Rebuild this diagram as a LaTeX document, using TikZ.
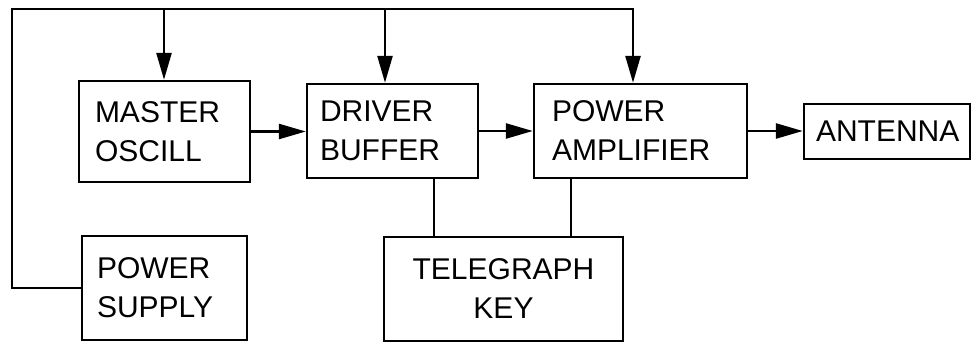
\documentclass[tikz,border=0pt]{standalone}
\usepackage{fontspec}
\setmainfont{Liberation Sans}
\usetikzlibrary{arrows.meta}
\tikzset{
  blk/.style={draw, line width=2.4pt, align=left, font=\fontsize{30}{39}\selectfont},
  wire/.style={line width=2.6pt},
  arr/.style={wire, -{Triangle[length=27pt,width=15pt]}}
}
\begin{document}
\begin{tikzpicture}[x=1pt,y=-1pt]
                \useasboundingbox (0,0) rectangle (972,342);
                \node[blk, inner xsep=16pt, text width=139pt, minimum height=101pt] (osc) at (164.5,131.5) {MASTER\\OSCILL};
                \node[blk, inner xsep=13pt, text width=145pt, minimum height=94pt] (buf) at (392.5,131) {DRIVER\\BUFFER};
                \node[blk, inner xsep=18pt, text width=177pt, minimum height=94pt] (amp) at (640.5,131) {POWER\\AMPLIFIER};
                \node[blk, inner xsep=12pt, text width=142pt, minimum height=55pt] (ant) at (887,131.5) {ANTENNA};
                \node[blk, inner xsep=15pt, text width=135pt, minimum height=104pt] (psu) at (164.5,288) {POWER\\SUPPLY};
                \node[blk, align=center, inner xsep=10pt, text width=219pt, minimum height=104pt] (key) at (503.5,289) {TELEGRAPH\\KEY};
                \coordinate (tl) at (12,9);
                \coordinate (t1) at (164,9);
                \coordinate (t2) at (385,9);
                \coordinate (tr) at (633,9);
                \draw[arr] (psu.west) -| (tl) -- (tr) -- (tr |- amp.north);
                \draw[arr] (t1) -- (t1 |- osc.north);
                \draw[arr] (t2) -- (t2 |- buf.north);
                \draw[arr] (osc.east) -- (osc.east -| buf.west);
                \draw[arr] (buf.east) -- (buf.east -| amp.west);
                \draw[arr] (amp.east) -- (amp.east -| ant.west);
                \draw[wire] ([xshift=41.5pt]buf.south) -- ([xshift=41.5pt]buf.south |- key.north);
                \draw[wire] ([xshift=-69.5pt]amp.south) -- ([xshift=-69.5pt]amp.south |- key.north);
                \end{tikzpicture}
\end{document}
